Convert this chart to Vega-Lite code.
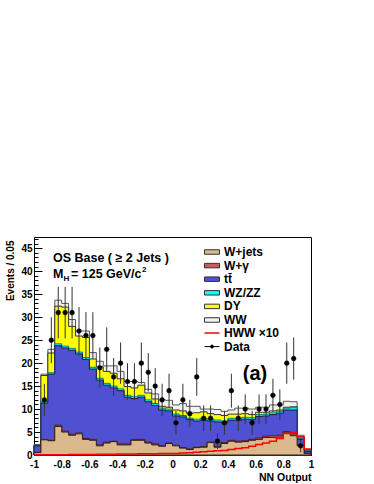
{
"$schema": "https://vega.github.io/schema/vega-lite/v6.json",
"width": 277, "height": 218,
"autosize": "none",
"padding": {"left": 34, "top": 237, "right": 63, "bottom": 29},
"background": "white",
"resolve": {"axis": {"x": "independent", "y": "independent"}},
"config": {
  "font": "Liberation Sans",
  "view": {"stroke": "black", "strokeWidth": 1},
  "axis": {"domainColor": "black", "tickColor": "black", "labelColor": "black", "labelFont": "Liberation Sans", "labelFontWeight": "bold", "labelFontSize": 10, "titleFont": "Liberation Sans", "titleFontWeight": "bold", "titleColor": "black", "grid": false, "labelOverlap": false, "labelFlush": false}
},
"datasets": {
"mc": [
{"lo":-1,"hi":-0.95,"wj":0.5,"wg":0.6,"tt":2.0,"vv":2.1,"dy":2.1,"ww":2.3,"hww":0.05},
{"lo":-0.95,"hi":-0.9,"wj":3.3,"wg":3.4,"tt":11.3,"vv":11.6,"dy":17.3,"ww":17.6,"hww":0.05},
{"lo":-0.9,"hi":-0.85,"wj":3.1,"wg":3.2,"tt":17.6,"vv":17.9,"dy":22.2,"ww":23.0,"hww":0.05},
{"lo":-0.85,"hi":-0.8,"wj":6.2,"wg":6.5,"tt":23.8,"vv":24.2,"dy":32.4,"ww":33.7,"hww":0.08},
{"lo":-0.8,"hi":-0.75,"wj":5.0,"wg":5.2,"tt":23.3,"vv":23.7,"dy":32.2,"ww":33.0,"hww":0.08},
{"lo":-0.75,"hi":-0.7,"wj":4.3,"wg":4.5,"tt":22.8,"vv":23.2,"dy":28.0,"ww":29.5,"hww":0.1},
{"lo":-0.7,"hi":-0.65,"wj":4.6,"wg":4.8,"tt":22.0,"vv":22.4,"dy":25.9,"ww":27.0,"hww":0.1},
{"lo":-0.65,"hi":-0.6,"wj":3.4,"wg":3.6,"tt":20.8,"vv":21.2,"dy":25.6,"ww":27.0,"hww":0.12},
{"lo":-0.6,"hi":-0.55,"wj":3.2,"wg":3.4,"tt":18.7,"vv":19.1,"dy":20.9,"ww":22.3,"hww":0.12},
{"lo":-0.55,"hi":-0.5,"wj":2.0,"wg":2.2,"tt":16.3,"vv":16.7,"dy":19.2,"ww":20.4,"hww":0.15},
{"lo":-0.5,"hi":-0.45,"wj":2.6,"wg":2.8,"tt":15.2,"vv":15.6,"dy":18.2,"ww":19.4,"hww":0.15},
{"lo":-0.45,"hi":-0.4,"wj":2.9,"wg":3.0,"tt":14.6,"vv":15.0,"dy":17.8,"ww":19.4,"hww":0.18},
{"lo":-0.4,"hi":-0.35,"wj":2.2,"wg":2.4,"tt":14.0,"vv":14.4,"dy":16.6,"ww":18.2,"hww":0.2},
{"lo":-0.35,"hi":-0.3,"wj":2.2,"wg":2.4,"tt":12.6,"vv":13.0,"dy":14.9,"ww":16.0,"hww":0.2},
{"lo":-0.3,"hi":-0.25,"wj":3.2,"wg":3.4,"tt":12.3,"vv":12.7,"dy":14.6,"ww":16.0,"hww":0.22},
{"lo":-0.25,"hi":-0.2,"wj":3.2,"wg":3.4,"tt":12.6,"vv":13.0,"dy":15.2,"ww":15.8,"hww":0.25},
{"lo":-0.2,"hi":-0.15,"wj":2.6,"wg":2.8,"tt":11.6,"vv":12.0,"dy":13.5,"ww":14.3,"hww":0.25},
{"lo":-0.15,"hi":-0.1,"wj":2.2,"wg":2.4,"tt":10.8,"vv":11.2,"dy":12.2,"ww":13.3,"hww":0.28},
{"lo":-0.1,"hi":-0.05,"wj":1.9,"wg":2.0,"tt":9.8,"vv":10.2,"dy":10.6,"ww":12.0,"hww":0.3},
{"lo":-0.05,"hi":0,"wj":2.5,"wg":2.6,"tt":9.6,"vv":10.0,"dy":10.4,"ww":11.9,"hww":0.3},
{"lo":0,"hi":0.05,"wj":2.0,"wg":2.1,"tt":8.5,"vv":8.9,"dy":9.8,"ww":10.9,"hww":0.35},
{"lo":0.05,"hi":0.1,"wj":1.5,"wg":1.6,"tt":8.3,"vv":8.6,"dy":9.6,"ww":11.2,"hww":0.45},
{"lo":0.1,"hi":0.15,"wj":1.2,"wg":1.3,"tt":7.7,"vv":8.0,"dy":9.1,"ww":10.6,"hww":0.5},
{"lo":0.15,"hi":0.2,"wj":1.6,"wg":1.7,"tt":7.4,"vv":7.8,"dy":9.2,"ww":10.6,"hww":0.6},
{"lo":0.2,"hi":0.25,"wj":1.7,"wg":1.8,"tt":7.6,"vv":8.0,"dy":9.4,"ww":10.0,"hww":0.7},
{"lo":0.25,"hi":0.3,"wj":2.7,"wg":2.8,"tt":7.4,"vv":7.8,"dy":9.0,"ww":10.0,"hww":0.8},
{"lo":0.3,"hi":0.35,"wj":1.7,"wg":1.8,"tt":7.2,"vv":7.6,"dy":8.8,"ww":9.9,"hww":0.9},
{"lo":0.35,"hi":0.4,"wj":2.5,"wg":2.7,"tt":7.1,"vv":7.4,"dy":8.6,"ww":9.5,"hww":1.0},
{"lo":0.4,"hi":0.45,"wj":3.0,"wg":3.2,"tt":7.6,"vv":8.0,"dy":8.9,"ww":9.8,"hww":1.2},
{"lo":0.45,"hi":0.5,"wj":2.8,"wg":3.0,"tt":7.6,"vv":8.0,"dy":8.9,"ww":10.2,"hww":1.4},
{"lo":0.5,"hi":0.55,"wj":2.9,"wg":3.1,"tt":7.8,"vv":8.2,"dy":9.0,"ww":10.2,"hww":1.6},
{"lo":0.55,"hi":0.6,"wj":3.2,"wg":3.4,"tt":7.7,"vv":8.1,"dy":8.8,"ww":10.0,"hww":1.9},
{"lo":0.6,"hi":0.65,"wj":3.4,"wg":3.7,"tt":8.4,"vv":8.8,"dy":9.3,"ww":10.4,"hww":2.3},
{"lo":0.65,"hi":0.7,"wj":3.8,"wg":4.1,"tt":8.5,"vv":8.9,"dy":9.3,"ww":10.4,"hww":2.6},
{"lo":0.7,"hi":0.75,"wj":3.8,"wg":4.2,"tt":8.8,"vv":9.2,"dy":9.6,"ww":10.9,"hww":3.0},
{"lo":0.75,"hi":0.8,"wj":3.9,"wg":4.3,"tt":9.1,"vv":9.5,"dy":9.8,"ww":10.9,"hww":3.6},
{"lo":0.8,"hi":0.85,"wj":4.8,"wg":5.1,"tt":9.8,"vv":10.2,"dy":10.4,"ww":11.7,"hww":4.7},
{"lo":0.85,"hi":0.9,"wj":4.2,"wg":4.6,"tt":9.8,"vv":10.3,"dy":10.5,"ww":11.6,"hww":4.9},
{"lo":0.9,"hi":0.95,"wj":2.0,"wg":2.2,"tt":3.4,"vv":3.6,"dy":3.7,"ww":4.3,"hww":4.0},
{"lo":0.95,"hi":1,"wj":0.3,"wg":0.4,"tt":0.8,"vv":0.9,"dy":0.9,"ww":1.2,"hww":1.3}
],
"obs": [
{"x":-0.925,"n":12,"lo":8.5,"hi":15.5},
{"x":-0.875,"n":25,"lo":20,"hi":30},
{"x":-0.825,"n":31,"lo":25.4,"hi":36.6},
{"x":-0.775,"n":31,"lo":25.4,"hi":36.6},
{"x":-0.725,"n":31,"lo":25.4,"hi":36.6},
{"x":-0.675,"n":27,"lo":21.8,"hi":32.2},
{"x":-0.625,"n":26,"lo":20.9,"hi":31.1},
{"x":-0.575,"n":26,"lo":20.9,"hi":31.1},
{"x":-0.525,"n":19,"lo":14.6,"hi":23.4},
{"x":-0.475,"n":23,"lo":18.2,"hi":27.8},
{"x":-0.425,"n":17,"lo":12.9,"hi":21.1},
{"x":-0.375,"n":20,"lo":15.5,"hi":24.5},
{"x":-0.325,"n":16,"lo":12,"hi":20},
{"x":-0.275,"n":16,"lo":12,"hi":20},
{"x":-0.225,"n":20,"lo":15.5,"hi":24.5},
{"x":-0.175,"n":18,"lo":13.8,"hi":22.2},
{"x":-0.125,"n":15,"lo":11.1,"hi":18.9},
{"x":-0.075,"n":12,"lo":8.5,"hi":15.5},
{"x":-0.025,"n":14,"lo":10.3,"hi":17.7},
{"x":0.025,"n":7,"lo":4.4,"hi":9.6},
{"x":0.075,"n":12,"lo":8.5,"hi":15.5},
{"x":0.125,"n":9,"lo":6,"hi":12},
{"x":0.175,"n":17,"lo":12.9,"hi":21.1},
{"x":0.225,"n":8,"lo":5.2,"hi":10.8},
{"x":0.275,"n":8,"lo":5.2,"hi":10.8},
{"x":0.325,"n":3,"lo":1.3,"hi":4.7},
{"x":0.375,"n":7,"lo":4.4,"hi":9.6},
{"x":0.425,"n":14,"lo":10.3,"hi":17.7},
{"x":0.475,"n":8,"lo":5.2,"hi":10.8},
{"x":0.525,"n":10,"lo":6.8,"hi":13.2},
{"x":0.575,"n":7,"lo":4.4,"hi":9.6},
{"x":0.625,"n":10,"lo":6.8,"hi":13.2},
{"x":0.675,"n":10,"lo":6.8,"hi":13.2},
{"x":0.725,"n":13,"lo":9.4,"hi":16.6},
{"x":0.775,"n":11,"lo":7.7,"hi":14.3},
{"x":0.825,"n":20,"lo":15.5,"hi":24.5},
{"x":0.875,"n":21,"lo":16.4,"hi":25.6},
{"x":0.925,"n":2,"lo":0.6,"hi":3.4}
]
},
"layer": [
{
  "data": {"name": "mc"},
  "transform": [{"fold": ["lo","hi"], "as": ["edge","xpos"]}],
  "mark": {"type": "area", "interpolate": "linear", "stroke": "#555", "strokeWidth": 1, "fillOpacity": 1},
  "encoding": {
    "x": {"field": "xpos", "type": "quantitative", "scale": {"domain": [-1, 1], "nice": false, "zero": false},
      "axis": {"values": [-1,-0.8,-0.6,-0.4,-0.2,0,0.2,0.4,0.6,0.8,1],
        "labelExpr": "'' + datum.value", "tickSize": -8,
        "labelOverlap": false, "labelFlush": false, "labelBound": false,
        "labelPadding": 12.5, "labelBaseline": "top",
        "title": "NN Output", "titleFontSize": 10.5, "titleAnchor": "end", "titleAlign": "right", "titleBaseline": "alphabetic", "titleX": 277, "titleY": 25}},
    "y": {"field": "ww", "type": "quantitative", "stack": null, "scale": {"domain": [0, 47.46], "nice": false},
      "axis": {"values": [0,5,10,15,20,25,30,35,40,45],
        "labelExpr": "'' + datum.value", "tickSize": -8,
        "labelOverlap": false, "labelFlush": false, "labelBound": false,
        "labelPadding": 10,
        "title": "Events / 0.05", "titleFontSize": 10, "titleAngle": -90, "titleAlign": "right", "titleBaseline": "middle", "titleX": -23.3, "titleY": 3}},
    "order": [{"field": "lo"}, {"field": "xpos"}],
    "fill": {"datum": "ww", "type": "nominal",
      "scale": {"domain": ["wj","wg","tt","vv","dy","ww"], "range": ["#dcb98c","#cd5c5c","#5050d2","#00ffff","#ffff00","#f2f2f2"]},
      "legend": {"orient": "none", "legendX": 172, "legendY": 9, "title": null, "padding": 0,
        "symbolType": "M-1.5,-0.45H1.5V0.45H-1.5Z", "symbolSize": 100, "symbolStrokeColor": "#555", "symbolStrokeWidth": 1, "symbolOpacity": 1,
        "labelFont": "Liberation Sans", "labelFontSize": 12, "labelFontWeight": "bold", "labelColor": "black", "labelOffset": 6, "rowPadding": 1.6,
        "labelExpr": "datum.value === 'wj' ? 'W+jets' : datum.value === 'wg' ? 'W+γ' : datum.value === 'tt' ? 'tt̄' : datum.value === 'vv' ? 'WZ/ZZ' : datum.value === 'dy' ? 'DY' : 'WW'"}}
  }
},
{
  "data": {"name": "mc"},
  "transform": [{"fold": ["lo","hi"], "as": ["edge","xpos"]}],
  "mark": {"type": "area", "interpolate": "linear", "stroke": "#333", "strokeWidth": 1, "fillOpacity": 1},
  "encoding": {
    "x": {"field": "xpos", "type": "quantitative", "axis": null},
    "y": {"field": "dy", "type": "quantitative", "stack": null, "axis": null},
    "order": [{"field": "lo"}, {"field": "xpos"}],
    "fill": {"datum": "dy", "type": "nominal"}
  }
},
{
  "data": {"name": "mc"},
  "transform": [{"fold": ["lo","hi"], "as": ["edge","xpos"]}],
  "mark": {"type": "area", "interpolate": "linear", "stroke": "#1c7a7a", "strokeWidth": 1, "fillOpacity": 1},
  "encoding": {
    "x": {"field": "xpos", "type": "quantitative", "axis": null},
    "y": {"field": "vv", "type": "quantitative", "stack": null, "axis": null},
    "order": [{"field": "lo"}, {"field": "xpos"}],
    "fill": {"datum": "vv", "type": "nominal"}
  }
},
{
  "data": {"name": "mc"},
  "transform": [{"fold": ["lo","hi"], "as": ["edge","xpos"]}],
  "mark": {"type": "area", "interpolate": "linear", "stroke": "#1a1a3a", "strokeWidth": 1, "fillOpacity": 1},
  "encoding": {
    "x": {"field": "xpos", "type": "quantitative", "axis": null},
    "y": {"field": "tt", "type": "quantitative", "stack": null, "axis": null},
    "order": [{"field": "lo"}, {"field": "xpos"}],
    "fill": {"datum": "tt", "type": "nominal"}
  }
},
{
  "data": {"name": "mc"},
  "transform": [{"fold": ["lo","hi"], "as": ["edge","xpos"]}],
  "mark": {"type": "area", "interpolate": "linear", "stroke": "#5a1a1a", "strokeWidth": 1, "fillOpacity": 1},
  "encoding": {
    "x": {"field": "xpos", "type": "quantitative", "axis": null},
    "y": {"field": "wg", "type": "quantitative", "stack": null, "axis": null},
    "order": [{"field": "lo"}, {"field": "xpos"}],
    "fill": {"datum": "wg", "type": "nominal"}
  }
},
{
  "data": {"name": "mc"},
  "transform": [{"fold": ["lo","hi"], "as": ["edge","xpos"]}],
  "mark": {"type": "area", "interpolate": "linear", "stroke": "#2a2015", "strokeWidth": 1, "fillOpacity": 1},
  "encoding": {
    "x": {"field": "xpos", "type": "quantitative", "axis": null},
    "y": {"field": "wj", "type": "quantitative", "stack": null, "axis": null},
    "order": [{"field": "lo"}, {"field": "xpos"}],
    "fill": {"datum": "wj", "type": "nominal"}
  }
},
{
  "data": {"name": "mc"},
  "transform": [{"fold": ["lo","hi"], "as": ["edge","xpos"]}],
  "mark": {"type": "line", "interpolate": "linear", "strokeWidth": 1.5},
  "encoding": {
    "x": {"field": "xpos", "type": "quantitative", "axis": null},
    "y": {"field": "hww", "type": "quantitative", "axis": null},
    "order": [{"field": "lo"}, {"field": "xpos"}],
    "stroke": {"datum": "HWW ×10", "type": "nominal",
      "scale": {"domain": ["HWW ×10", "Data"], "range": ["#ff0000", "#000000"]},
      "legend": {"orient": "none", "legendX": 172, "legendY": 90, "title": null, "padding": 0,
        "symbolSize": 100, "symbolStrokeWidth": 1.5, "symbolOpacity": 1,
        "labelFont": "Liberation Sans", "labelFontSize": 12, "labelFontWeight": "bold", "labelColor": "black", "labelOffset": 6, "rowPadding": 1.6,
        "encode": {"symbols": {"update": {
          "shape": {"signal": "datum.value === 'Data' ? 'M-1.5,0H1.5M-0.3,0A0.3,0.3 0 1,0 0.3,0A0.3,0.3 0 1,0 -0.3,0Z' : 'M-1.5,0H1.5'"},
          "fill": {"signal": "datum.value === 'Data' ? '#000000' : 'transparent'"},
          "strokeWidth": {"signal": "datum.value === 'Data' ? 1 : 1.5"}}}}}}
  }
},
{
  "data": {"name": "obs"},
  "mark": {"type": "rule", "strokeWidth": 1, "color": "#333"},
  "encoding": {
    "x": {"field": "x", "type": "quantitative",
      "axis": {"orient": "bottom", "values": [-1,-0.9,-0.8,-0.7,-0.6,-0.5,-0.4,-0.3,-0.2,-0.1,0,0.1,0.2,0.3,0.4,0.5,0.6,0.7,0.8,0.9,1], "tickSize": -4, "labels": false, "domain": false, "title": null}},
    "y": {"field": "lo", "type": "quantitative",
      "axis": {"orient": "left", "values": [0,1,2,3,4,5,6,7,8,9,10,11,12,13,14,15,16,17,18,19,20,21,22,23,24,25,26,27,28,29,30,31,32,33,34,35,36,37,38,39,40,41,42,43,44,45,46,47], "tickSize": -4, "labels": false, "domain": false, "title": null}},
    "y2": {"field": "hi"}
  }
},
{
  "data": {"name": "obs"},
  "mark": {"type": "circle", "size": 22, "fill": "#000000", "opacity": 1, "strokeWidth": 0.5},
  "encoding": {
    "x": {"field": "x", "type": "quantitative", "axis": null},
    "y": {"field": "n", "type": "quantitative", "axis": null},
    "stroke": {"datum": "Data", "type": "nominal"}
  }
},
{
  "data": {"values": [{}]},
  "mark": {"type": "text", "text": "OS Base ( ≥ 2 Jets )", "align": "left", "baseline": "alphabetic", "font": "Liberation Sans", "fontWeight": "bold", "fontSize": 12.5, "color": "black"},
  "encoding": {"x": {"datum": -0.863, "type": "quantitative", "axis": null}, "y": {"datum": 42.0, "type": "quantitative", "axis": null}}
},
{
  "data": {"values": [{}]},
  "mark": {"type": "text", "text": "M", "align": "left", "baseline": "alphabetic", "font": "Liberation Sans", "fontWeight": "bold", "fontSize": 12.5, "color": "black"},
  "encoding": {"x": {"datum": -0.863, "type": "quantitative", "axis": null}, "y": {"datum": 38.5, "type": "quantitative", "axis": null}}
},
{
  "data": {"values": [{}]},
  "mark": {"type": "text", "text": "H", "align": "left", "baseline": "alphabetic", "font": "Liberation Sans", "fontWeight": "bold", "fontSize": 8, "dx": 10.5, "dy": 3, "color": "black"},
  "encoding": {"x": {"datum": -0.863, "type": "quantitative", "axis": null}, "y": {"datum": 38.5, "type": "quantitative", "axis": null}}
},
{
  "data": {"values": [{}]},
  "mark": {"type": "text", "text": "= 125 GeV/c", "align": "left", "baseline": "alphabetic", "font": "Liberation Sans", "fontWeight": "bold", "fontSize": 12.5, "dx": 18, "color": "black"},
  "encoding": {"x": {"datum": -0.863, "type": "quantitative", "axis": null}, "y": {"datum": 38.5, "type": "quantitative", "axis": null}}
},
{
  "data": {"values": [{}]},
  "mark": {"type": "text", "text": "2", "align": "left", "baseline": "alphabetic", "font": "Liberation Sans", "fontWeight": "bold", "fontSize": 8, "dx": 89, "dy": -6, "color": "black"},
  "encoding": {"x": {"datum": -0.863, "type": "quantitative", "axis": null}, "y": {"datum": 38.5, "type": "quantitative", "axis": null}}
},
{
  "data": {"values": [{}]},
  "mark": {"type": "text", "text": "(a)", "align": "center", "baseline": "alphabetic", "font": "Liberation Sans", "fontWeight": "bold", "fontSize": 20, "color": "black"},
  "encoding": {"x": {"datum": 0.596, "type": "quantitative", "axis": null}, "y": {"datum": 16.4, "type": "quantitative", "axis": null}}
}
]
}
